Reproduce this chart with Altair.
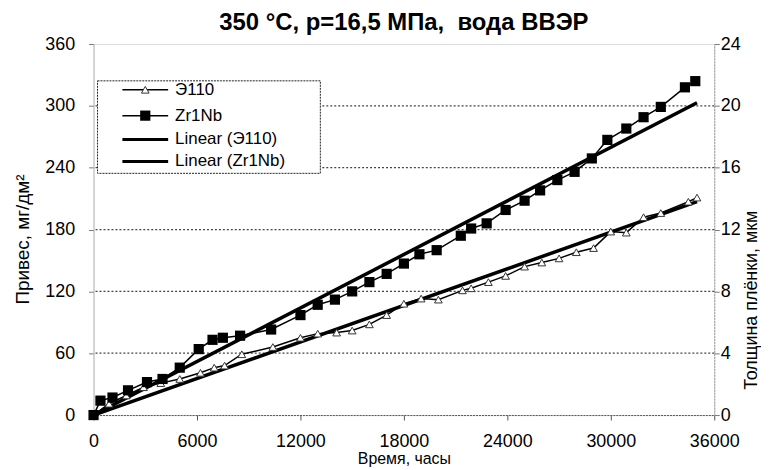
import altair as alt
import pandas as pd

# ---- data ----
zr_t = [0, 400, 1100, 2000, 3100, 4000, 5000, 6100, 6900, 7500, 8500, 10300, 12000,
        13000, 14000, 15000, 16000, 17000, 18000, 18900, 19900, 21300, 21900, 22800,
        23900, 25000, 25900, 26900, 27900, 28900, 29800, 30900, 31900, 32900, 34300, 34900]
zr_v = [0, 14, 17, 24, 32, 35, 46, 64, 73, 75, 77, 83, 97,
        107, 112, 120, 129, 137, 147, 156, 160, 174, 181, 186,
        199, 208, 218, 228, 236, 249, 267, 278, 289, 299, 318, 324]

e_t = [0, 900, 1900, 2900, 3900, 5000, 6200, 7000, 7600, 8600, 10400, 12000, 13000,
       14100, 15000, 16000, 17000, 18000, 19000, 20000, 21400, 21900, 22900, 23900,
       25000, 26000, 27000, 28000, 29000, 30000, 30900, 31900, 32900, 34500, 35000]
e_v = [0, 11, 19, 27, 31, 35, 41, 46, 48, 59, 66, 75, 79,
       80, 82, 88, 97, 108, 113, 112, 121, 123, 129, 135,
       144, 148, 152, 158, 162, 178, 177, 192, 196, 207, 211]

trend_t = [0, 35000]
trend_e = [0, 207]
trend_zr = [0, 303]

x_ticks = [0, 6000, 12000, 18000, 24000, 30000, 36000]
left_ticks = [0, 60, 120, 180, 240, 300, 360]
right_ticks = [0, 4, 8, 12, 16, 20, 24]
legend_labels = ["Э110", "Zr1Nb", "Linear (Э110)", "Linear (Zr1Nb)"]

FONT = "Liberation Sans"

df_zr = pd.DataFrame({"t": zr_t, "v": zr_v})
df_e = pd.DataFrame({"t": e_t, "v": e_v})
df_tzr = pd.DataFrame({"t": trend_t, "v": trend_zr})
df_te = pd.DataFrame({"t": trend_t, "v": trend_e})
df_grid = pd.DataFrame({"v": left_ticks[1:-1]})
df_right = pd.DataFrame({"r": right_ticks})

xscale = alt.Scale(domain=[0, 36000], nice=False, zero=False)
yscale = alt.Scale(domain=[0, 360], nice=False)

X = alt.X("t:Q", scale=xscale, axis=alt.Axis(
    values=x_ticks, title="Время, часы", grid=False, format="d", labelFlush=False,
    labelFontSize=18, labelFont=FONT, labelColor="#000", labelPadding=13,
    titleFont=FONT, titleFontSize=16, titleFontWeight="normal", titleColor="#000",
    titlePadding=0, domainColor="#555", domainDash=[2, 1], tickColor="#555",
    tickSize=5))
Y = alt.Y("v:Q", scale=yscale, axis=alt.Axis(
    values=left_ticks, title="Привес, мг/дм²", grid=False, labelFlush=False,
    labelFontSize=18, labelFont=FONT, labelColor="#000", labelPadding=14,
    titleFont=FONT, titleFontSize=19, titleFontWeight="normal", titleColor="#000",
    titlePadding=12, titleY=196, domainColor="#bbb", tickColor="#777", tickSize=5))
Xn = alt.X("t:Q", scale=xscale)
Yn = alt.Y("v:Q", scale=yscale)

grid = alt.Chart(df_grid).mark_rule(color="#444", strokeDash=[2, 2], strokeWidth=1.3).encode(y=Yn)

trend_zr_l = alt.Chart(df_tzr).mark_line(color="#000", strokeWidth=3.5).encode(x=X, y=Y)
trend_e_l = alt.Chart(df_te).mark_line(color="#000", strokeWidth=3.5).encode(x=Xn, y=Yn)

zr_line = alt.Chart(df_zr).mark_line(color="#000", strokeWidth=1.5).encode(x=Xn, y=Yn)
zr_pts = alt.Chart(df_zr).mark_point(shape="square", filled=True, color="#000", size=105, opacity=1).encode(x=Xn, y=Yn)
e_line = alt.Chart(df_e).mark_line(color="#000", strokeWidth=1.5).encode(x=Xn, y=Yn)
e_pts = alt.Chart(df_e).mark_point(shape="triangle-up", filled=True, fill="#fff", stroke="#333",
                                   strokeWidth=1, size=60, opacity=1).encode(x=Xn, y=Yn)

# ---- legend (manual, inside plot area) ----
leg_rows = [46, 72, 96, 118]
leg_df = pd.DataFrame({"label": legend_labels})
box = alt.Chart(leg_df.head(1)).mark_rect(fill="#fff", stroke="#222", strokeDash=[2, 1], strokeWidth=1).encode(
    x=alt.value(4), x2=alt.value(228), y=alt.value(37), y2=alt.value(130))
legend_layers = [box]
for i, lab in enumerate(legend_labels):
    d = pd.DataFrame({"label": [lab]})
    yy = leg_rows[i]
    w = 1.5 if i < 2 else 3
    legend_layers.append(alt.Chart(d).mark_rule(color="#000", strokeWidth=w).encode(
        x=alt.value(29), x2=alt.value(75), y=alt.value(yy)))
    if i == 0:
        legend_layers.append(alt.Chart(d).mark_point(shape="triangle-up", filled=True, fill="#fff", stroke="#333",
                                                     strokeWidth=1, size=60, opacity=1).encode(
            x=alt.value(52), y=alt.value(yy)))
    if i == 1:
        legend_layers.append(alt.Chart(d).mark_point(shape="square", filled=True, color="#000", size=105, opacity=1).encode(
            x=alt.value(52), y=alt.value(yy)))
    legend_layers.append(alt.Chart(d).mark_text(align="left", baseline="middle", font=FONT, fontSize=17,
                                                color="#000").encode(
        x=alt.value(82), y=alt.value(yy), text="label:N"))

main = alt.layer(grid, trend_zr_l, trend_e_l, e_line, zr_line, e_pts, zr_pts, *legend_layers)

right = alt.Chart(df_right).mark_point(opacity=0).encode(
    x=alt.value(0),
    y=alt.Y("r:Q", scale=alt.Scale(domain=[0, 24], nice=False), axis=alt.Axis(
        orient="right", values=right_ticks, title="Толщина плёнки, мкм", grid=False, labelFlush=False,
        labelFontSize=18, labelFont=FONT, labelColor="#000", labelPadding=1,
        titleFont=FONT, titleFontSize=18, titleFontWeight="normal", titleColor="#000",
        titleAngle=270, titleBaseline="top", titleAlign="center", titleY=257, titlePadding=2,
        domainColor="#999", domainDash=[2, 1], tickColor="#777", tickSize=5)))

chart = alt.layer(main, right).resolve_scale(y="independent").properties(
    width=624, height=373,
    padding={"left": 5, "top": 2, "right": 0, "bottom": 0},
    title=alt.Title("350 °С, р=16,5 МПа,\u00a0 вода ВВЭР", font=FONT, fontSize=24, fontWeight="bold",
                    color="#000", offset=0, anchor="middle"),
).configure_view(stroke=None).configure(background="#fff")

chart.save("out.html", embed_options={"renderer": "svg", "actions": False})
